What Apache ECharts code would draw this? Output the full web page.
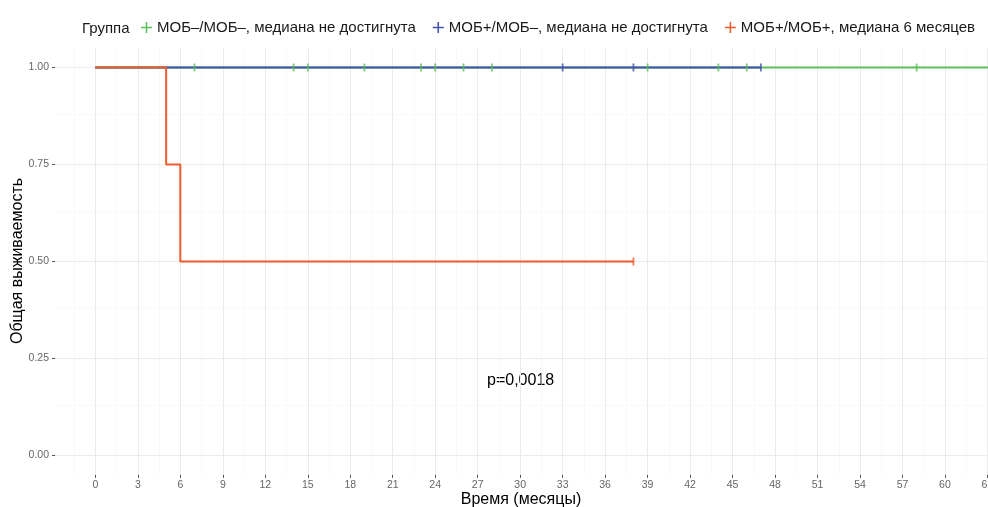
<!DOCTYPE html>
<html>
<head>
<meta charset="utf-8">
<script src="https://cdn.jsdelivr.net/npm/echarts@6/dist/echarts.min.js"></script>
<style>
html,body{margin:0;padding:0;background:#fff;}
#c{width:988px;height:507px;}
</style>
</head>
<body>
<div id="c"></div>
<script>
// ---- data ----
const groupNames = ['МОБ–/МОБ–, медиана не достигнута', 'МОБ+/МОБ–, медиана не достигнута', 'МОБ+/МОБ+, медиана 6 месяцев'];
const groupColors = ['#5cbf5a', '#4352b0', '#ee5b2c'];
// survival step curves [time, survival]
const curveNegNeg = [[0, 1], [64, 1]];
const curvePosNeg = [[0, 1], [47, 1]];
const curvePosPos = [[0, 1], [5, 0.75], [6, 0.5], [38, 0.5]];
// censored observation times
const censorNegNeg = [7, 14, 15, 19, 23, 24, 26, 28, 39, 44, 46, 58];
const censorPosNeg = [33, 38, 47];
const censorPosPos = [38];
const censorPosPosSurv = [0.5];
const xTicks = [0,3,6,9,12,15,18,21,24,27,30,33,36,39,42,45,48,51,54,57,60,63];
const xMinor = [-1.5,1.5,4.5,7.5,10.5,13.5,16.5,19.5,22.5,25.5,28.5,31.5,34.5,37.5,40.5,43.5,46.5,49.5,52.5,55.5,58.5,61.5];
const yTicks = [0, 0.25, 0.5, 0.75, 1];
const yMinor = [0.125, 0.375, 0.625, 0.875];
const pText = 'p=0,0018';
const xTitle = 'Время (месяцы)';
const yTitle = 'Общая выживаемость';
const legendTitle = 'Группа';

const chart = echarts.init(document.getElementById('c'), null, {renderer: 'canvas'});
const plusIcon = 'path://M4.3,0h1.4v4.3h4.3v1.4h-4.3v4.3h-1.4v-4.3h-4.3v-1.4h4.3z';
const FONT = 'Liberation Sans, Arial, sans-serif';

function lineSeries(name, data, color) {
  return {
    name: name, type: 'line', step: 'end', data: data,
    showSymbol: false, symbol: 'none',
    lineStyle: {color: color, width: 2}, itemStyle: {color: color},
    z: 3, silent: true, animation: false
  };
}
function censorSeries(name, pts, color) {
  return {
    name: name + '_c', type: 'scatter', data: pts,
    symbol: 'rect', symbolSize: [1.8, 8],
    itemStyle: {color: color}, z: 4, silent: true, animation: false
  };
}

const gridSeries = {
  name: 'grid', type: 'line', data: [[0, 1]], showSymbol: false,
  lineStyle: {opacity: 0}, z: 0, silent: true, animation: false,
  markLine: {
    silent: true, symbol: 'none', label: {show: false}, animation: false, z: 0,
    data: [].concat(
      xMinor.map(v => ({xAxis: v, lineStyle: {color: '#f5f5f5', width: 0.6, type: 'solid'}})),
      yMinor.map(v => ({yAxis: v, lineStyle: {color: '#f5f5f5', width: 0.6, type: 'solid'}})),
      xTicks.map(v => ({xAxis: v, lineStyle: {color: '#ebebeb', width: 1, type: 'solid'}})),
      yTicks.map(v => ({yAxis: v, lineStyle: {color: '#ebebeb', width: 1, type: 'solid'}}))
    )
  }
};

const option = {
  backgroundColor: '#ffffff',
  animation: false,
  textStyle: {fontFamily: FONT},
  grid: {left: 55, right: 0, top: 48.1, bottom: 32.1, containLabel: false, outerBoundsMode: 'none'},
  legend: {
    left: 136, top: 15, itemWidth: 11, itemHeight: 11, itemGap: 17,
    icon: plusIcon,
    data: groupNames.map((n, i) => ({name: n, itemStyle: {color: groupColors[i]}})),
    textStyle: {fontSize: 15, color: '#1a1a1a', fontFamily: FONT},
    selectedMode: false
  },
  graphic: [
    {type: 'text', left: 82, top: 21, style: {text: legendTitle, fontSize: 15, fill: '#1a1a1a', fontFamily: FONT}},
    {type: 'text', left: 487, top: 373, style: {text: pText, fontSize: 16, fill: '#000', fontFamily: FONT}},
    {type: 'text', x: 521, y: 499.5, style: {text: xTitle, fontSize: 16, fill: '#000', fontFamily: FONT, align: 'center', verticalAlign: 'middle'}},
    {type: 'text', x: 18, y: 261, rotation: Math.PI / 2, style: {text: yTitle, fontSize: 16, fill: '#000', fontFamily: FONT, align: 'center', verticalAlign: 'middle'}}
  ],
  xAxis: {
    type: 'value', min: -2.85, max: 63.04,
    axisLine: {show: false, onZero: false},
    axisTick: {show: true, customValues: xTicks, length: 3, lineStyle: {color: '#555', width: 1}},
    axisLabel: {show: true, customValues: xTicks, fontSize: 10.5, color: '#666', margin: 5, hideOverlap: false},
    splitLine: {show: false}
  },
  yAxis: {
    type: 'value', min: -0.05, max: 1.05,
    axisLine: {show: false, onZero: false},
    axisTick: {show: true, customValues: yTicks, length: 3, lineStyle: {color: '#555', width: 1}},
    axisLabel: {show: true, customValues: yTicks, fontSize: 10.5, color: '#666', margin: 6,
      formatter: v => v.toFixed(2)},
    splitLine: {show: false}
  },
  series: [
    gridSeries,
    lineSeries(groupNames[0], curveNegNeg, groupColors[0]),
    lineSeries(groupNames[1], curvePosNeg, groupColors[1]),
    lineSeries(groupNames[2], curvePosPos, groupColors[2]),
    censorSeries(groupNames[0], censorNegNeg.map(t => [t, 1]), groupColors[0]),
    censorSeries(groupNames[1], censorPosNeg.map(t => [t, 1]), groupColors[1]),
    censorSeries(groupNames[2], censorPosPos.map((t, i) => [t, censorPosPosSurv[i]]), groupColors[2])
  ]
};
chart.setOption(option);
</script>
</body>
</html>
